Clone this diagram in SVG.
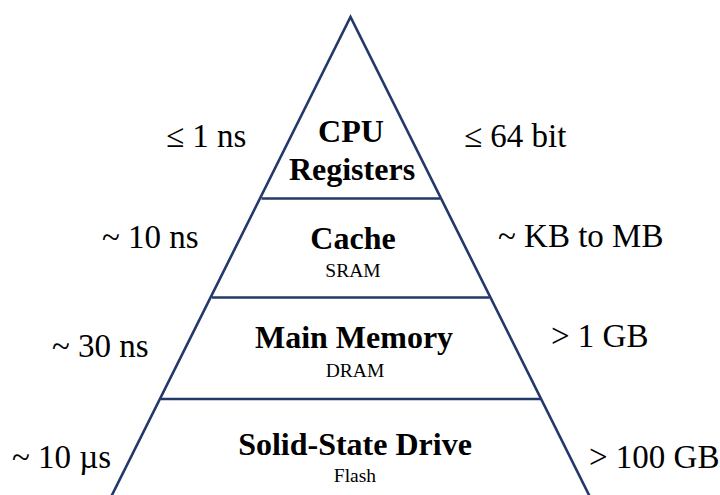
<svg xmlns="http://www.w3.org/2000/svg" width="720" height="495" viewBox="0 0 720 495">
<style>
.ln{stroke:#23396a;stroke-width:2.6;fill:none;stroke-linecap:butt}
.t{font-family:"Liberation Serif","Times New Roman",serif;fill:#000}
.title{font-size:32px;font-weight:bold;text-anchor:middle}
.sub{font-size:19.5px;text-anchor:middle}
.lab{font-size:33px}
</style>
<rect width="720" height="495" fill="#fff"/>
<g id="connectors">
<path class="ln" d="M111,497 L350.5,17 L590,497"/>
<line class="ln" x1="261.5" y1="198.5" x2="440" y2="198.5"/>
<line class="ln" x1="212" y1="297.5" x2="489.5" y2="297.5"/>
<line class="ln" x1="161" y1="399" x2="540.5" y2="399"/>
</g>
<g id="registers">
<text class="t title" x="351" y="142">CPU</text>
<text class="t title" x="352" y="180">Registers</text>
</g>
<g id="cache">
<text class="t title" x="353" y="249">Cache</text>
<text class="t sub" x="353" y="277">SRAM</text>
</g>
<g id="memory">
<text class="t title" x="354" y="348">Main Memory</text>
<text class="t sub" x="355" y="377">DRAM</text>
</g>
<g id="ssd">
<text class="t title" x="355" y="455">Solid-State Drive</text>
<text class="t sub" x="355" y="482">Flash</text>
</g>
<g id="latency">
<text class="t lab" x="166" y="147">≤ 1 ns</text>
<text class="t lab" x="102" y="248">~ 10 ns</text>
<text class="t lab" x="52" y="357">~ 30 ns</text>
<text class="t lab" x="12" y="468">~ 10 µs</text>
</g>
<g id="capacity">
<text class="t lab" x="464" y="147">≤ 64 bit</text>
<text class="t lab" x="498" y="247">~ KB to MB</text>
<text class="t lab" x="551" y="347">&gt; 1 GB</text>
<text class="t lab" x="589" y="468">&gt; 100 GB</text>
</g>
</svg>
